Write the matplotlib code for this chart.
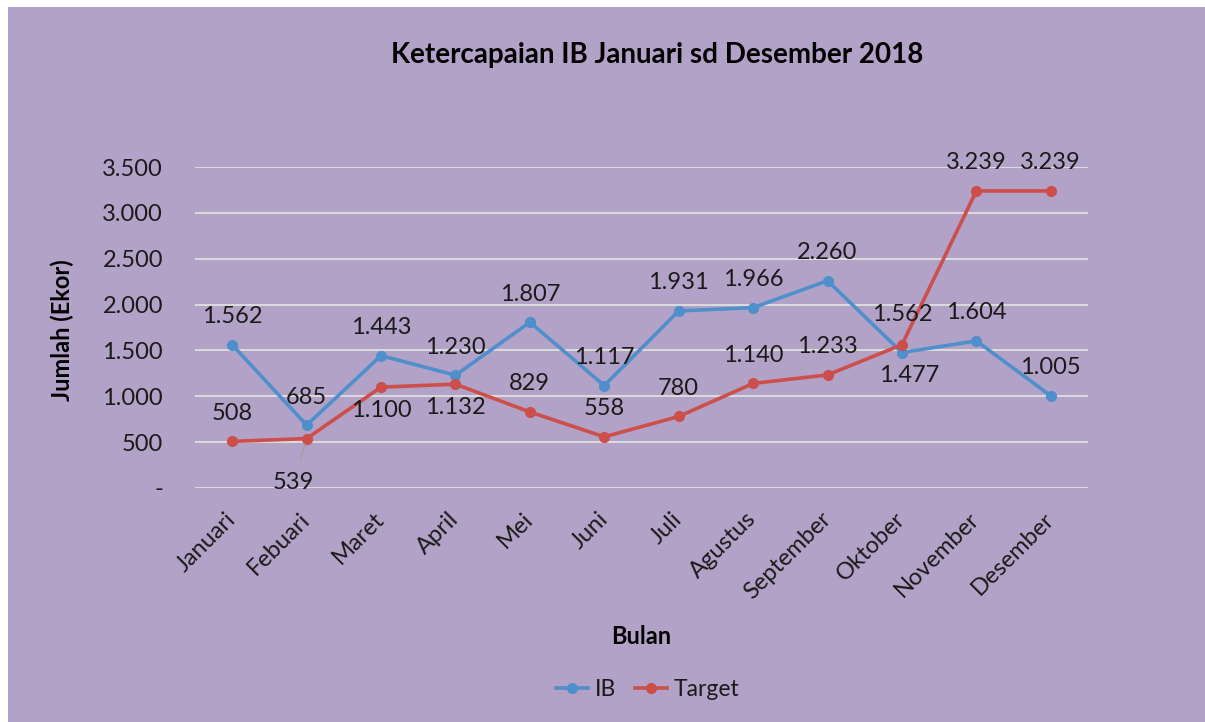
import matplotlib
matplotlib.use("Agg")
import matplotlib.pyplot as plt
from matplotlib.patches import Rectangle
from matplotlib.lines import Line2D

months = ["Januari", "Febuari", "Maret", "April", "Mei", "Juni", "Juli",
          "Agustus", "September", "Oktober", "November", "Desember"]
ib = [1562, 685, 1443, 1230, 1807, 1117, 1931, 1966, 2260, 1477, 1604, 1005]
target = [508, 539, 1100, 1132, 829, 558, 780, 1140, 1233, 1562, 3239, 3239]
yticks = [0, 500, 1000, 1500, 2000, 2500, 3000, 3500]
ytick_labels = ["-", "500", "1.000", "1.500", "2.000", "2.500", "3.000", "3.500"]

# label offsets in pixels (dx, dy) relative to the point
ib_off = [(0, 28), (0, 28), (0, 28), (0, 28), (0, 28), (0, 28), (0, 28),
          (0, 28), (0, 28), (7, -23), (0, 28), (0, 28)]
tg_off = [(0, 28), (-13, -44), (0, -23), (0, -23), (0, 28), (0, 28), (0, 28),
          (0, 28), (0, 28), (0, 30), (0, 28), (0, 28)]

plt.rcParams['font.family'] = ['Lato', 'DejaVu Sans']

BG = "#B3A2C7"
BLUE = "#4F8FCC"
RED = "#CC4F4B"
FS = 17

fig = plt.figure(figsize=(12.05, 7.22), dpi=100, facecolor="white")
fig.patches.append(Rectangle((8 / 1205, 0), 1 - 8 / 1205, 1 - 7 / 722,
                             transform=fig.transFigure, facecolor=BG,
                             edgecolor="none", zorder=-10))

ax = fig.add_axes([195 / 1205, 1 - 488 / 722, 893 / 1205, 321 / 722])
ax.set_zorder(2)
ax.set_facecolor("none")
x = list(range(len(months)))
ax.plot(x, ib, color=BLUE, lw=2.6, marker="o", ms=7, zorder=3)
ax.plot(x, target, color=RED, lw=2.6, marker="o", ms=7, zorder=4)

ax.set_xlim(-0.5, len(months) - 0.5)
ax.set_ylim(0, 3500)
ax.set_yticks(yticks)
ax.set_yticklabels(ytick_labels, fontsize=FS, color="#1a1a1a")
ax.grid(axis="y", color="#DCDCDC", lw=1.4)
ax.set_axisbelow(True)
for s in ax.spines.values():
    s.set_visible(False)
ax.tick_params(axis="y", length=0, pad=23)
ax.tick_params(axis="x", length=0, pad=20)
ax.set_xticks(x)
ax.set_xticklabels(months, rotation=45, ha="right", va="center",
                   rotation_mode="anchor", fontsize=FS, color="#1a1a1a")

k = 0.72  # px -> pt
for i in x:
    dx, dy = ib_off[i]
    ax.annotate(f"{ib[i]:,}".replace(",", "."), (i, ib[i]),
                xytext=(dx * k, dy * k), textcoords="offset points",
                ha="center", va="center", fontsize=FS, color="#1a1a1a", zorder=6)
    dx, dy = tg_off[i]
    ax.annotate(f"{target[i]:,}".replace(",", "."),
                (i, target[i]),
                xytext=(dx * k, dy * k), textcoords="offset points",
                ha="center", va="center", fontsize=FS, color="#1a1a1a", zorder=6,
                arrowprops=dict(arrowstyle="-", color="#A0A0A0", lw=0.8,
                                shrinkA=6, shrinkB=4) if i == 1 else None)

fig.text(657 / 1205, 1 - 55 / 722, "Ketercapaian IB Januari sd Desember 2018",
         ha="center", va="center", fontsize=20, fontweight="bold", color="black")
fig.text(62 / 1205, 1 - 330 / 722, "Jumlah (Ekor)", rotation=90,
         ha="center", va="center", fontsize=17, fontweight="bold", color="black")
fig.text(641 / 1205, 1 - 636 / 722, "Bulan",
         ha="center", va="center", fontsize=17, fontweight="bold", color="black")

handles = [Line2D([], [], color=BLUE, lw=2.6, marker="o", ms=7),
           Line2D([], [], color=RED, lw=2.6, marker="o", ms=7)]
fig.legend(handles, ["IB", "Target"], loc="center", ncol=2,
           bbox_to_anchor=(648 / 1205, 1 - 690 / 722), frameon=False,
           fontsize=16.5, handlelength=1.4, handletextpad=0.3, columnspacing=0.8,
           labelcolor="#1a1a1a")

fig.savefig("out.png", dpi=100, facecolor="white")
